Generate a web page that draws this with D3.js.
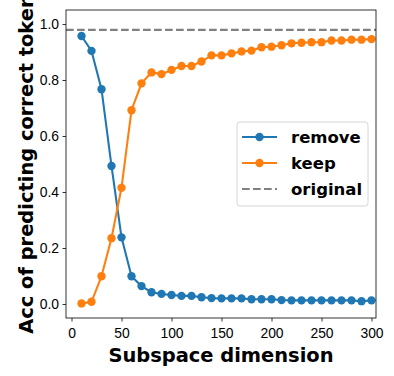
<!DOCTYPE html>
<html>
<head>
<meta charset="utf-8">
<script src="https://cdn.jsdelivr.net/npm/d3@7"></script>
<style>
  body { margin: 0; background: #fff; }
  svg { display: block; font-family: "DejaVu Sans", sans-serif; }
  .axis text { font-size: 13.9px; fill: #000; }
  .axis line { stroke: #000; stroke-width: 0.8; }
</style>
</head>
<body>
<div id="chart"><svg></svg></div>
<script>
var dims = [10, 20, 30, 40, 50, 60, 70, 80, 90, 100, 110, 120, 130, 140, 150,
  160, 170, 180, 190, 200, 210, 220, 230, 240, 250, 260, 270, 280, 290, 300];

var removeAcc = [0.957, 0.904, 0.767, 0.493, 0.238, 0.099, 0.064, 0.042, 0.036, 0.032,
  0.029, 0.029, 0.024, 0.021, 0.020, 0.020, 0.020, 0.017, 0.017, 0.017,
  0.014, 0.013, 0.013, 0.013, 0.013, 0.013, 0.013, 0.013, 0.010, 0.013];

var keepAcc = [0.002, 0.008, 0.099, 0.235, 0.415, 0.692, 0.788, 0.827, 0.821, 0.836,
  0.850, 0.850, 0.866, 0.888, 0.888, 0.895, 0.902, 0.905, 0.917, 0.919,
  0.924, 0.931, 0.933, 0.935, 0.935, 0.941, 0.941, 0.944, 0.944, 0.946];

var originalAcc = 0.979;

var xTicks = [0, 50, 100, 150, 200, 250, 300];
var yTicks = [0, 0.2, 0.4, 0.6, 0.8, 1.0];

var seriesNames = ["remove", "keep", "original"];
var seriesColors = ["#1f77b4", "#ff7f0e", "#808080"];

var W = 394, H = 376;
var margin = { top: 10, right: 18, bottom: 58, left: 66 };
var width = W - margin.left - margin.right;
var height = H - margin.top - margin.bottom;

var svg = d3.select("#chart svg").
  attr("width", W).
  attr("height", H);

var g = svg.append("g").
  attr("transform", "translate(" + margin.left + "," + margin.top + ")");

var xScale = d3.scaleLinear().domain([-5.5, 304.5]).range([0, width]);
var yScale = d3.scaleLinear().domain([-0.05, 1.05]).range([height, 0]);

var xAxis = d3.axisBottom(xScale).tickValues(xTicks).tickSize(3.5).tickSizeOuter(0).tickPadding(3.5);
var yAxis = d3.axisLeft(yScale).tickValues(yTicks).tickSize(3.5).tickSizeOuter(0).tickPadding(3.5).
  tickFormat(d3.format(".1f"));

var gX = g.append("g").
  attr("class", "x axis").
  attr("transform", "translate(0," + height + ")").
  call(xAxis);
gX.select(".domain").remove();
gX.selectAll("text").attr("dy", "0.94em");

var gY = g.append("g").
  attr("class", "y axis").
  call(yAxis);
gY.select(".domain").remove();

var line = d3.line().
  x(function(d) { return xScale(d.x); }).
  y(function(d) { return yScale(d.y); });

var series = [removeAcc, keepAcc];
series.forEach(function(vals, i) {
  var ds = dims.map(function(x, j) { return { x: x, y: vals[j] }; });
  g.append("path").
    datum(ds).
    attr("fill", "none").
    attr("stroke", seriesColors[i]).
    attr("stroke-width", 2.08).
    attr("d", line);
  g.selectAll(".dot" + i).
    data(ds).
    enter().append("circle").
    attr("cx", function(d) { return xScale(d.x); }).
    attr("cy", function(d) { return yScale(d.y); }).
    attr("r", 4.17).
    attr("fill", seriesColors[i]);
});

g.append("line").
  attr("x1", 0).
  attr("x2", width).
  attr("y1", yScale(originalAcc)).
  attr("y2", yScale(originalAcc)).
  attr("stroke", seriesColors[2]).
  attr("stroke-width", 2.08).
  attr("stroke-dasharray", "7.7,3.3");

// frame
g.append("rect").
  attr("width", width).
  attr("height", height).
  attr("fill", "none").
  attr("stroke", "#000").
  attr("stroke-width", 0.8);

// legend
var leg = g.append("g").attr("transform", "translate(" + (237 - margin.left) + "," + (122 - margin.top) + ")");
leg.append("rect").
  attr("width", 131).
  attr("height", 84).
  attr("rx", 3).
  attr("fill", "#fff").
  attr("fill-opacity", 0.8).
  attr("stroke", "#cccccc").
  attr("stroke-width", 0.8);

seriesNames.forEach(function(name, i) {
  var cy = 15 + i * 26;
  var row = leg.append("g");
  row.append("line").
    attr("x1", 5).
    attr("x2", 40).
    attr("y1", cy).
    attr("y2", cy).
    attr("stroke", seriesColors[i]).
    attr("stroke-width", 2.08).
    attr("stroke-dasharray", i === 2 ? "7.7,3.3" : null);
  if (i < 2) {
    row.append("circle").
      attr("cx", 22.5).
      attr("cy", cy).
      attr("r", 4.17).
      attr("fill", seriesColors[i]);
  }
  row.append("text").
    attr("x", 54).
    attr("y", cy).
    attr("dy", "0.36em").
    attr("font-size", "16.5px").
    attr("font-weight", "bold").
    text(name);
});

// axis labels
svg.append("text").
  attr("x", margin.left + width / 2).
  attr("y", 362).
  attr("text-anchor", "middle").
  attr("font-size", "19.44px").
  attr("font-weight", "bold").
  text("Subspace dimension");

svg.append("text").
  attr("transform", "translate(33," + (margin.top + height / 2) + ") rotate(-90)").
  attr("text-anchor", "middle").
  attr("font-size", "19.44px").
  attr("font-weight", "bold").
  text("Acc of predicting correct token");
</script>
</body>
</html>
